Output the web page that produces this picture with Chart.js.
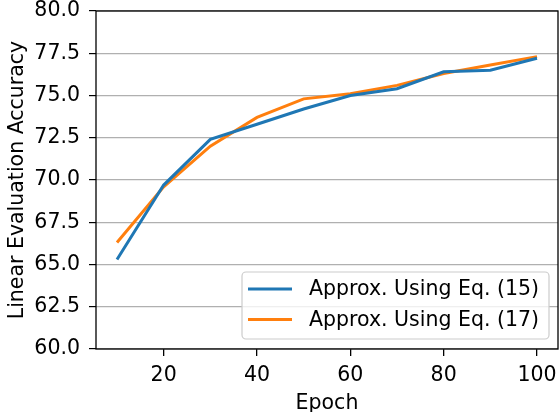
<!DOCTYPE html>
<html>
<head>
<meta charset="utf-8">
<script src="https://cdn.jsdelivr.net/npm/chart.js@4"></script>
<style>
  html, body { margin: 0; padding: 0; background: white; }
  #wrap { width: 559px; height: 412px; }
</style>
</head>
<body>
<div id="wrap"><canvas id="chart" width="559" height="412"></canvas></div>
<script>
// Data
const epochs = [10, 20, 30, 40, 50, 60, 70, 80, 90, 100];
const eq15 = [65.3, 69.7, 72.4, 73.3, 74.2, 75.0, 75.4, 76.4, 76.5, 77.2];
const eq17 = [66.3, 69.6, 72.0, 73.7, 74.8, 75.1, 75.6, 76.3, 76.8, 77.3];
const xTicks = [20, 40, 60, 80, 100];
const yTicks = [60, 62.5, 65, 67.5, 70, 72.5, 75, 77.5, 80];

const font = { family: "DejaVu Sans", size: 20.5 };

// matplotlib style box around the axes
const frameBox = {
    id: "frameBox",
    afterDatasetsDraw(chart) {
        const a = chart.chartArea;
        const ctx = chart.ctx;
        ctx.save();
        ctx.strokeStyle = "black";
        ctx.lineWidth = 1.3;
        ctx.strokeRect(a.left, a.top, a.right - a.left, a.bottom - a.top);
        ctx.restore();
    }
};

// legend drawn inside the lower right corner
const boxLegend = {
    id: "boxLegend",
    afterDraw(chart) {
        const ctx = chart.ctx;
        const a = chart.chartArea;
        const x = 242, y = 272, w = a.right - 9 - 242, h = 67;
        ctx.save();
        ctx.fillStyle = "rgba(255,255,255,0.8)";
        ctx.strokeStyle = "#cccccc";
        ctx.lineWidth = 1.2;
        ctx.beginPath();
        ctx.roundRect(x, y, w, h, 4);
        ctx.fill();
        ctx.stroke();
        ctx.font = "20.5px 'DejaVu Sans'";
        ctx.textBaseline = "middle";
        chart.data.datasets.forEach((ds, i) => {
            const ly = 289 + i * 30.5;
            ctx.strokeStyle = ds.borderColor;
            ctx.lineWidth = 3;
            ctx.beginPath();
            ctx.moveTo(248, ly);
            ctx.lineTo(292, ly);
            ctx.stroke();
            ctx.fillStyle = "#000";
            ctx.fillText(ds.label, 309, ly + 1);
        });
        ctx.restore();
    }
};

new Chart(document.getElementById("chart"), {
    type: "line",
    data: {
        datasets: [
            {
                label: "Approx. Using Eq. (15)",
                data: epochs.map((e, i) => ({ x: e, y: eq15[i] })),
                borderColor: "#1f77b4",
                borderWidth: 3,
                pointRadius: 0,
                tension: 0,
                fill: false
            },
            {
                label: "Approx. Using Eq. (17)",
                data: epochs.map((e, i) => ({ x: e, y: eq17[i] })),
                borderColor: "#ff7f0e",
                borderWidth: 3,
                pointRadius: 0,
                tension: 0,
                fill: false
            }
        ]
    },
    options: {
        responsive: false,
        animation: false,
        layout: { padding: { left: 0, top: 11, right: 1, bottom: 0 } },
        plugins: {
            legend: { display: false },
            tooltip: { enabled: false }
        },
        scales: {
            x: {
                type: "linear",
                min: 5.5,
                max: 104.5,
                afterBuildTicks: s => { s.ticks = xTicks.map(v => ({ value: v })); },
                afterFit: s => { s.height = 63; s.paddingRight = 0; s.paddingLeft = 0; },
                border: { display: false },
                grid: {
                    drawOnChartArea: false,
                    tickColor: "black",
                    tickLength: 7,
                    lineWidth: 1.3
                },
                ticks: { color: "black", font: font, padding: 7, maxRotation: 0 },
                title: {
                    display: true,
                    text: "Epoch",
                    color: "black",
                    font: font,
                    padding: { top: 1, bottom: -4 }
                }
            },
            y: {
                min: 60,
                max: 80,
                afterBuildTicks: s => { s.ticks = yTicks.map(v => ({ value: v })); },
                afterFit: s => { s.width = 96; s.paddingTop = 0; s.paddingBottom = 0; },
                border: { display: false },
                grid: {
                    color: "#b0b0b0",
                    lineWidth: 1.2,
                    tickColor: "black",
                    tickLength: 7
                },
                ticks: {
                    color: "black",
                    font: font,
                    padding: 9,
                    callback: v => v.toFixed(1)
                },
                title: {
                    display: true,
                    text: "Linear Evaluation Accuracy",
                    color: "black",
                    font: font,
                    padding: { top: 5, bottom: 2 }
                }
            }
        }
    },
    plugins: [frameBox, boxLegend]
});
</script>
</body>
</html>
